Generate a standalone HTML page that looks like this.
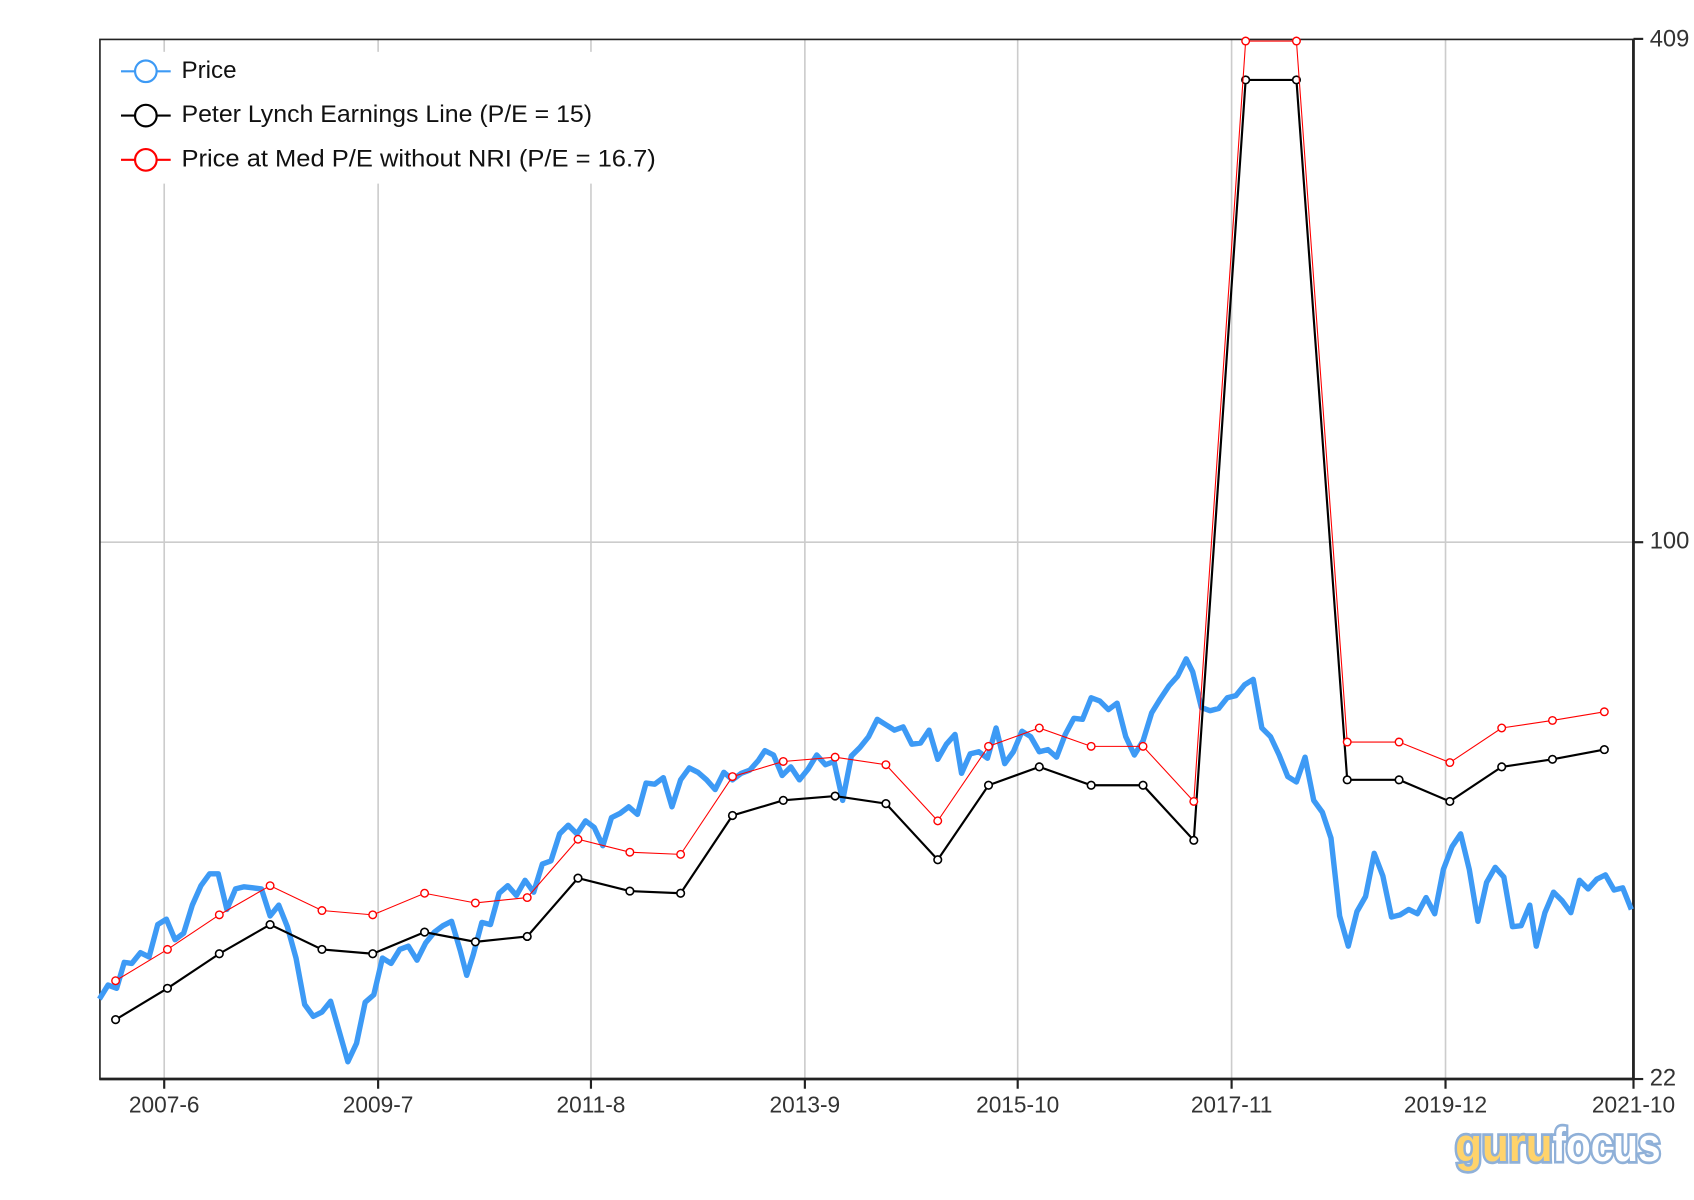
<!DOCTYPE html>
<html><head><meta charset="utf-8"><style>html,body{margin:0;padding:0;background:#fff;}svg{display:block}</style></head>
<body>
<svg width="1694" height="1200" viewBox="0 0 1568 1111" preserveAspectRatio="none" font-family="'Liberation Sans',sans-serif">
<rect width="1568" height="1111" fill="#fff"/>
<g stroke="#ccc" stroke-width="1.5">
<line x1="152" y1="37" x2="152" y2="999"/><line x1="350" y1="37" x2="350" y2="999"/><line x1="547" y1="37" x2="547" y2="999"/><line x1="745" y1="37" x2="745" y2="999"/><line x1="942" y1="37" x2="942" y2="999"/><line x1="1140" y1="37" x2="1140" y2="999"/><line x1="1338" y1="37" x2="1338" y2="999"/>
<line x1="92" y1="502" x2="1512" y2="502"/>
</g>
<rect x="104" y="48" width="520" height="122" fill="#fff"/>
<rect x="92.5" y="36.5" width="1419" height="962.5" fill="none" stroke="#222" stroke-width="1.5"/>
<line x1="92" y1="999" x2="1512" y2="999" stroke="#222" stroke-width="2.5"/>
<line x1="1512" y1="36" x2="1512" y2="999" stroke="#222" stroke-width="2.5"/>
<g stroke="#222" stroke-width="2">
<line x1="152" y1="999" x2="152" y2="1008"/><line x1="350" y1="999" x2="350" y2="1008"/><line x1="547" y1="999" x2="547" y2="1008"/><line x1="745" y1="999" x2="745" y2="1008"/><line x1="942" y1="999" x2="942" y2="1008"/><line x1="1140" y1="999" x2="1140" y2="1008"/><line x1="1338" y1="999" x2="1338" y2="1008"/><line x1="1512" y1="999" x2="1512" y2="1008"/>
<line x1="1512" y1="36" x2="1521" y2="36"/><line x1="1512" y1="502" x2="1521" y2="502"/><line x1="1512" y1="999" x2="1521" y2="999"/>
</g>
<g font-size="21" fill="#333" text-anchor="middle">
<text x="152" y="1030">2007-6</text><text x="350" y="1030">2009-7</text><text x="547" y="1030">2011-8</text><text x="745" y="1030">2013-9</text><text x="942" y="1030">2015-10</text><text x="1140" y="1030">2017-11</text><text x="1338" y="1030">2019-12</text><text x="1512" y="1030">2021-10</text>
</g>
<g font-size="22" fill="#333"><text x="1527" y="43">409</text><text x="1527" y="508">100</text><text x="1527" y="1005">22</text></g>
<polyline fill="none" stroke="#3d9af5" stroke-width="5" stroke-linejoin="round" points="92,925 100,912 108,915 115,891 122,892 130,882 138,886 146,856 154,851 162,870 170,864 178,838 186,820 194,809 202,809 210,842 218,823 226,821 234,822 242,823 250,848 258,838 266,858 274,887 282,930 290,941 298,937 306,927 314,955 322,983 330,966 338,928 346,921 354,887 362,892 370,879 378,876 386,889 394,873 402,863 410,857 418,853 426,880 432,903 438,884 446,854 454,856 462,827 470,820 478,829 486,815 494,826 502,800 510,797 518,772 526,764 534,772 542,760 550,766 558,783 566,757 574,753 582,747 590,754 598,725 606,726 614,720 622,747 630,722 638,711 646,715 654,722 662,731 670,715 678,722 686,716 694,713 702,704 708,695 716,699 724,718 732,710 740,722 748,712 756,699 764,708 772,705 780,741 788,700 796,692 804,682 812,666 820,671 828,676 836,673 844,689 852,688 860,676 868,703 876,689 884,680 890,716 898,698 906,696 914,702 922,674 930,707 938,696 946,677 954,682 962,696 970,694 978,701 986,680 994,665 1002,666 1010,646 1018,649 1026,657 1034,651 1042,682 1050,699 1058,686 1066,660 1074,647 1082,635 1090,626 1098,610 1104,622 1112,655 1120,658 1128,656 1136,646 1144,644 1152,634 1160,629 1168,674 1176,682 1184,699 1192,719 1200,724 1208,701 1216,741 1224,752 1232,776 1240,848 1248,876 1256,844 1264,830 1272,790 1280,811 1288,849 1296,847 1304,842 1312,846 1320,831 1328,846 1336,805 1344,784 1352,772 1360,805 1368,853 1376,817 1384,803 1392,812 1400,858 1408,857 1416,838 1422,876 1430,845 1438,826 1446,834 1454,845 1462,815 1470,823 1478,814 1486,810 1494,824 1502,822 1510,842"/>
<g fill="#fff" stroke="#000" stroke-width="1.5">
<polyline fill="none" stroke-width="2" points="107,944 155,915 203,883 250,856 298,879 345,883 393,863 440,872 488,867 535,813 583,825 630,827 678,755 725,741 773,737 820,744 868,796 915,727 962,710 1010,727 1058,727 1105,778 1153,74 1200,74 1247,722 1295,722 1342,742 1390,710 1437,703 1485,694"/>
<circle cx="107" cy="944" r="3.5"/><circle cx="155" cy="915" r="3.5"/><circle cx="203" cy="883" r="3.5"/><circle cx="250" cy="856" r="3.5"/><circle cx="298" cy="879" r="3.5"/><circle cx="345" cy="883" r="3.5"/><circle cx="393" cy="863" r="3.5"/><circle cx="440" cy="872" r="3.5"/><circle cx="488" cy="867" r="3.5"/><circle cx="535" cy="813" r="3.5"/><circle cx="583" cy="825" r="3.5"/><circle cx="630" cy="827" r="3.5"/><circle cx="678" cy="755" r="3.5"/><circle cx="725" cy="741" r="3.5"/><circle cx="773" cy="737" r="3.5"/><circle cx="820" cy="744" r="3.5"/><circle cx="868" cy="796" r="3.5"/><circle cx="915" cy="727" r="3.5"/><circle cx="962" cy="710" r="3.5"/><circle cx="1010" cy="727" r="3.5"/><circle cx="1058" cy="727" r="3.5"/><circle cx="1105" cy="778" r="3.5"/><circle cx="1153" cy="74" r="3.5"/><circle cx="1200" cy="74" r="3.5"/><circle cx="1247" cy="722" r="3.5"/><circle cx="1295" cy="722" r="3.5"/><circle cx="1342" cy="742" r="3.5"/><circle cx="1390" cy="710" r="3.5"/><circle cx="1437" cy="703" r="3.5"/><circle cx="1485" cy="694" r="3.5"/>
</g>
<g fill="#fff" stroke="#f00" stroke-width="1.3">
<polyline fill="none" stroke-width="1" points="107,908 155,879 203,847 250,820 298,843 345,847 393,827 440,836 488,831 535,777 583,789 630,791 678,719 725,705 773,701 820,708 868,760 915,691 962,674 1010,691 1058,691 1105,742 1153,38 1200,38 1247,687 1295,687 1342,706 1390,674 1437,667 1485,659"/>
<circle cx="107" cy="908" r="3.5"/><circle cx="155" cy="879" r="3.5"/><circle cx="203" cy="847" r="3.5"/><circle cx="250" cy="820" r="3.5"/><circle cx="298" cy="843" r="3.5"/><circle cx="345" cy="847" r="3.5"/><circle cx="393" cy="827" r="3.5"/><circle cx="440" cy="836" r="3.5"/><circle cx="488" cy="831" r="3.5"/><circle cx="535" cy="777" r="3.5"/><circle cx="583" cy="789" r="3.5"/><circle cx="630" cy="791" r="3.5"/><circle cx="678" cy="719" r="3.5"/><circle cx="725" cy="705" r="3.5"/><circle cx="773" cy="701" r="3.5"/><circle cx="820" cy="708" r="3.5"/><circle cx="868" cy="760" r="3.5"/><circle cx="915" cy="691" r="3.5"/><circle cx="962" cy="674" r="3.5"/><circle cx="1010" cy="691" r="3.5"/><circle cx="1058" cy="691" r="3.5"/><circle cx="1105" cy="742" r="3.5"/><circle cx="1153" cy="38" r="3.5"/><circle cx="1200" cy="38" r="3.5"/><circle cx="1247" cy="687" r="3.5"/><circle cx="1295" cy="687" r="3.5"/><circle cx="1342" cy="706" r="3.5"/><circle cx="1390" cy="674" r="3.5"/><circle cx="1437" cy="667" r="3.5"/><circle cx="1485" cy="659" r="3.5"/>
</g>
<g stroke-width="2" fill="#fff">
<line x1="112" y1="66" x2="158" y2="66" stroke="#3d9af5"/><circle cx="135" cy="66" r="10" stroke="#3d9af5"/>
<line x1="112" y1="107" x2="158" y2="107" stroke="#000"/><circle cx="135" cy="107" r="10" stroke="#000"/>
<line x1="112" y1="148" x2="158" y2="148" stroke="#f00"/><circle cx="135" cy="148" r="10" stroke="#f00"/>
</g>
<g font-size="22" fill="#111"><text x="168" y="72" textLength="51" lengthAdjust="spacingAndGlyphs">Price</text><text x="168" y="113" textLength="380" lengthAdjust="spacingAndGlyphs">Peter Lynch Earnings Line (P/E = 15)</text><text x="168" y="154" textLength="439" lengthAdjust="spacingAndGlyphs">Price at Med P/E without NRI (P/E = 16.7)</text></g>
<g font-size="44" font-weight="bold" stroke="#8fb0d8" stroke-width="5" paint-order="stroke" font-family="'Liberation Sans Narrow','Liberation Sans',sans-serif">
<text x="1347" y="1075" fill="#ffd36b" textLength="90" lengthAdjust="spacingAndGlyphs">guru</text>
<text x="1437" y="1075" fill="#ffffff" textLength="100" lengthAdjust="spacingAndGlyphs">focus</text>
</g>
</svg>
</body></html>
